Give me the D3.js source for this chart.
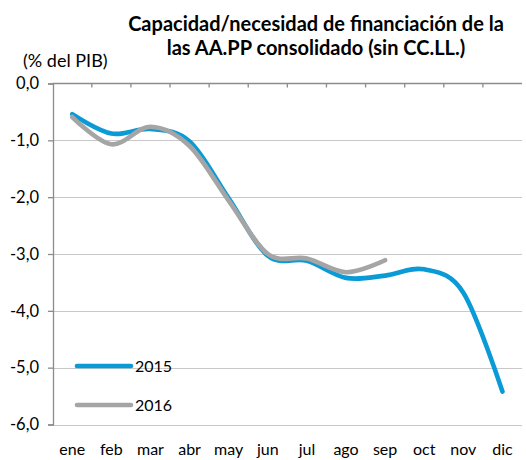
<!DOCTYPE html>
<meta charset="utf-8">
<title>Capacidad/necesidad de financiación</title>
<body>
<script src="https://cdn.jsdelivr.net/npm/d3@7"></script>
<style>
html, body {
    margin: 0;
    background: #fff;
}
svg {
    display: block;
    font-family: Lato, "Open Sans", sans-serif;
}
</style>
<script>
var months = ["ene", "feb", "mar", "abr", "may", "jun", "jul", "ago", "sep", "oct", "nov", "dic"];
var values2015 = [-0.54, -0.88, -0.80, -1.02, -2.02, -3.03, -3.12, -3.42, -3.38, -3.27, -3.68, -5.42];
var values2016 = [-0.59, -1.07, -0.76, -1.10, -2.06, -3.00, -3.08, -3.32, -3.11];
var yTicks = [0, -1, -2, -3, -4, -5, -6];
var yLabels = ["0,0", "-1,0", "-2,0", "-3,0", "-4,0", "-5,0", "-6,0"];
var seriesNames = ["2015", "2016"];
var seriesColors = ["#0a9bd6", "#a5a5a5"];

var width = 526,
    height = 460,
    plotLeft = 52.7,
    plotRight = 522,
    plotTop = 83.5,
    plotBottom = 424.5;

var svg = d3.select("body").append("svg")
    .attr("width", width)
    .attr("height", height);

var x = d3.scaleBand()
    .domain(months)
    .range([plotLeft, plotRight]);

var y = d3.scaleLinear()
    .domain([-6, 0])
    .range([plotBottom, plotTop]);

// gridlines
svg.append("g")
    .selectAll("line")
    .data(yTicks.filter(function(d) { return d < 0; }))
    .enter().append("line")
    .attr("x1", plotLeft)
    .attr("x2", plotRight)
    .attr("y1", function(d) { return Math.round(y(d)) + 0.5; })
    .attr("y2", function(d) { return Math.round(y(d)) + 0.5; })
    .attr("stroke", "#c8c8c8")
    .attr("stroke-width", 1);

// y axis
var yAxis = svg.append("g")
    .attr("transform", "translate(" + Math.round(plotLeft) + ",0)")
    .call(d3.axisLeft(y)
        .tickValues(yTicks)
        .tickSize(5)
        .tickPadding(9)
        .tickFormat(function(d, i) { return yLabels[i]; }));
yAxis.select(".domain").attr("stroke", "#8c8c8c").attr("stroke-width", 1.3);
yAxis.selectAll(".tick line").attr("stroke", "#8c8c8c").attr("stroke-width", 1.3);
yAxis.selectAll(".tick text")
    .attr("font-size", 16.5)
    .attr("fill", "#000")
    .style("font-family", "Lato, sans-serif");

// x axis along 0
var xAxis = svg.append("g")
    .attr("transform", "translate(0," + y(0) + ")");
xAxis.append("line")
    .attr("x1", plotLeft)
    .attr("x2", plotRight)
    .attr("stroke", "#8c8c8c")
    .attr("stroke-width", 1.3);
xAxis.selectAll("line.tick")
    .data(months.slice(1))
    .enter().append("line")
    .attr("class", "tick")
    .attr("x1", function(d) { return x(d); })
    .attr("x2", function(d) { return x(d); })
    .attr("y1", 0)
    .attr("y2", 4)
    .attr("stroke", "#8c8c8c")
    .attr("stroke-width", 1.3);

// month labels below plot
svg.append("g")
    .selectAll("text")
    .data(months)
    .enter().append("text")
    .attr("x", function(d) { return x(d) + x.bandwidth() / 2; })
    .attr("y", 455)
    .attr("text-anchor", "middle")
    .attr("font-size", 16)
    .text(function(d) { return d; });

var line = d3.line()
    .x(function(d, i) { return x(months[i]) + x.bandwidth() / 2; })
    .y(function(d) { return y(d); })
    .curve(d3.curveCardinal.tension(0));

[values2015, values2016].forEach(function(vals, i) {
    svg.append("path")
        .datum(vals)
        .attr("d", line)
        .attr("fill", "none")
        .attr("stroke", seriesColors[i])
        .attr("stroke-width", 4.6)
        .attr("stroke-linecap", "round")
        .attr("stroke-linejoin", "round");
});

// legend
var legend = svg.append("g");
seriesNames.forEach(function(name, i) {
    var ly = 366 + i * 39;
    legend.append("line")
        .attr("x1", 77)
        .attr("x2", 131)
        .attr("y1", ly)
        .attr("y2", ly)
        .attr("stroke", seriesColors[i])
        .attr("stroke-width", 4.6)
        .attr("stroke-linecap", "round");
    legend.append("text")
        .attr("x", 135)
        .attr("y", ly)
        .attr("dy", "0.36em")
        .attr("font-size", 16)
        .text(name);
});

// titles
svg.append("text")
    .attr("x", 316)
    .attr("y", 31)
    .attr("text-anchor", "middle")
    .attr("font-size", 20)
    .attr("font-weight", "bold")
    .text("Capacidad/necesidad de financiación de la");
svg.append("text")
    .attr("x", 316)
    .attr("y", 55)
    .attr("text-anchor", "middle")
    .attr("font-size", 20)
    .attr("font-weight", "bold")
    .text("las AA.PP consolidado (sin CC.LL.)");

svg.append("text")
    .attr("x", 23)
    .attr("y", 67)
    .attr("font-size", 18)
    .text("(% del PIB)");
</script>
